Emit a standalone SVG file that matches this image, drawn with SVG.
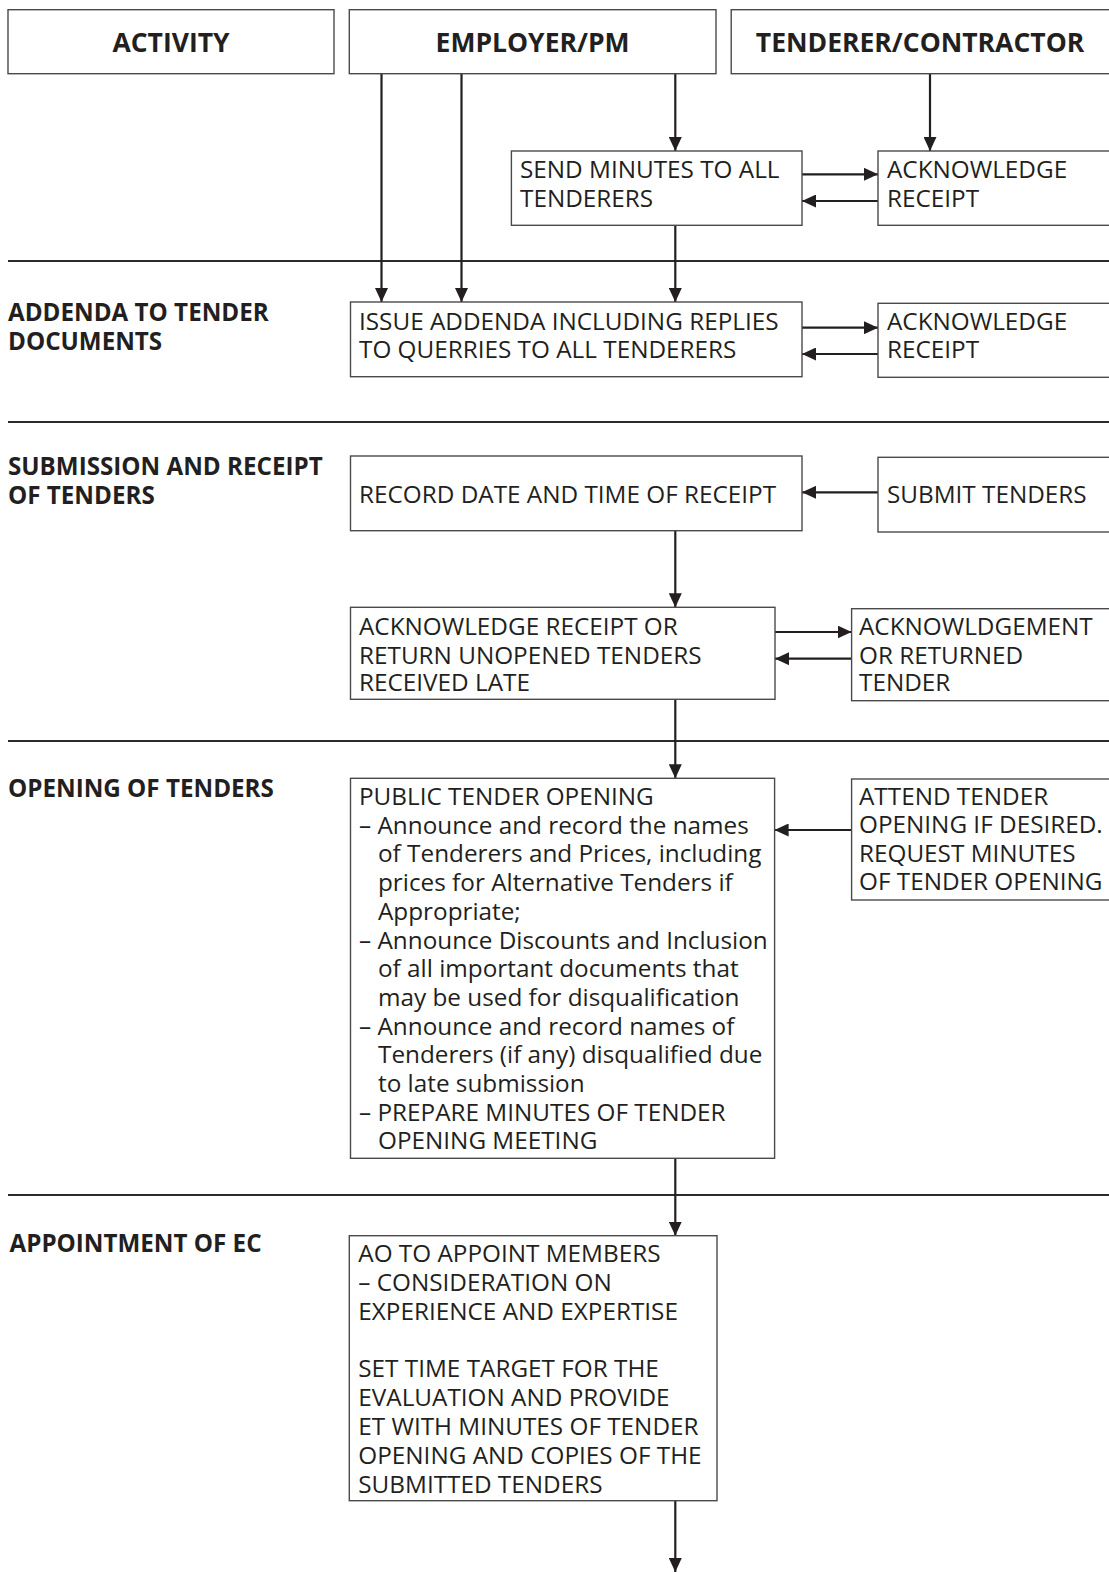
<svg xmlns="http://www.w3.org/2000/svg" width="1109" height="1572" viewBox="0 0 1109 1572">
<style>
  .box { fill: #ffffff; stroke: #4a4a4a; stroke-width: 1.4; }
  .hdr { font-family: "Open Sans", "Liberation Sans", sans-serif; font-weight: bold; font-size: 26.5px; fill: #231f20; }
  .lbl { font-family: "Open Sans", "Liberation Sans", sans-serif; font-weight: bold; font-size: 24.2px; fill: #231f20; }
  .t { font-family: "Open Sans", "Liberation Sans", sans-serif; font-size: 24.3px; fill: #231f20; }
  .sep { stroke: #2b2b2b; stroke-width: 2.2; fill: none; }
  .con { stroke: #231f20; stroke-width: 2.2; fill: none; marker-end: url(#ah); }
</style>
<defs>
  <marker id="ah" markerUnits="userSpaceOnUse" markerWidth="14" markerHeight="13" refX="14" refY="6.5" orient="auto">
    <path d="M0,0 L14,6.5 L0,13 z" fill="#231f20"/>
  </marker>
</defs>
<rect width="1109" height="1572" fill="#ffffff"/>

<g id="separators">
  <line class="sep" x1="8" y1="261" x2="1109" y2="261"/>
  <line class="sep" x1="8" y1="422" x2="1109" y2="422"/>
  <line class="sep" x1="8" y1="741" x2="1109" y2="741"/>
  <line class="sep" x1="8" y1="1195" x2="1109" y2="1195"/>
</g>

<g id="labels">
  <text class="lbl" x="8" y="321">ADDENDA TO TENDER</text>
  <text class="lbl" x="8" y="350">DOCUMENTS</text>
  <text class="lbl" x="8" y="475">SUBMISSION AND RECEIPT</text>
  <text class="lbl" x="8" y="503.5">OF TENDERS</text>
  <text class="lbl" x="8" y="797">OPENING OF TENDERS</text>
  <text class="lbl" x="9.5" y="1252">APPOINTMENT OF EC</text>
</g>

<g id="connectors">
  <line class="con" x1="381.5" y1="74" x2="381.5" y2="302"/>
  <line class="con" x1="461.5" y1="74" x2="461.5" y2="302"/>
  <line class="con" x1="675.3" y1="74" x2="675.3" y2="151"/>
  <line class="con" x1="930" y1="74" x2="930" y2="151"/>
  <line class="con" x1="675.3" y1="225.5" x2="675.3" y2="302"/>
  <line class="con" x1="802" y1="174.3" x2="878" y2="174.3"/>
  <line class="con" x1="878" y1="201" x2="802" y2="201"/>
  <line class="con" x1="802" y1="327.7" x2="878" y2="327.7"/>
  <line class="con" x1="878" y1="354" x2="802" y2="354"/>
  <line class="con" x1="878" y1="492.3" x2="802" y2="492.3"/>
  <line class="con" x1="675.3" y1="530.7" x2="675.3" y2="607.3"/>
  <line class="con" x1="775" y1="632" x2="851.6" y2="632"/>
  <line class="con" x1="851.6" y1="658.7" x2="775" y2="658.7"/>
  <line class="con" x1="675.3" y1="699.3" x2="675.3" y2="778.3"/>
  <line class="con" x1="851.6" y1="830" x2="774.6" y2="830"/>
  <line class="con" x1="675.3" y1="1158.3" x2="675.3" y2="1235.7"/>
  <line class="con" x1="675.3" y1="1500.7" x2="675.3" y2="1572"/>
</g>

<g id="hdr-activity">
  <rect class="box" x="8" y="9.7" width="326" height="64"/>
  <text class="hdr" x="171" y="51.5" text-anchor="middle">ACTIVITY</text>
</g>
<g id="hdr-employer">
  <rect class="box" x="349.3" y="9.7" width="366.7" height="64"/>
  <text class="hdr" x="532.6" y="51.5" text-anchor="middle">EMPLOYER/PM</text>
</g>
<g id="hdr-tenderer">
  <rect class="box" x="731.2" y="9.7" width="390" height="64"/>
  <text class="hdr" x="920" y="51.5" text-anchor="middle">TENDERER/CONTRACTOR</text>
</g>

<g id="send-minutes">
  <rect class="box" x="511.4" y="151" width="290.6" height="74.3"/>
  <text class="t" x="520" y="178.3">SEND MINUTES TO ALL</text>
  <text class="t" x="520" y="206.7">TENDERERS</text>
</g>
<g id="ack-1">
  <rect class="box" x="878" y="151" width="240" height="74.3"/>
  <text class="t" x="887" y="178.3">ACKNOWLEDGE</text>
  <text class="t" x="887" y="206.7">RECEIPT</text>
</g>

<g id="issue-addenda">
  <rect class="box" x="350.5" y="302" width="451.5" height="74.7"/>
  <text class="t" x="359" y="330">ISSUE ADDENDA INCLUDING REPLIES</text>
  <text class="t" x="359" y="358.3">TO QUERRIES TO ALL TENDERERS</text>
</g>
<g id="ack-2">
  <rect class="box" x="878" y="303.3" width="240" height="74"/>
  <text class="t" x="887" y="329.5">ACKNOWLEDGE</text>
  <text class="t" x="887" y="358.3">RECEIPT</text>
</g>

<g id="record-date">
  <rect class="box" x="350.5" y="456" width="451.5" height="74.7"/>
  <text class="t" x="359" y="503.3">RECORD DATE AND TIME OF RECEIPT</text>
</g>
<g id="submit-tenders">
  <rect class="box" x="878" y="457.3" width="240" height="74.7"/>
  <text class="t" x="887" y="503.3">SUBMIT TENDERS</text>
</g>

<g id="ack-receipt-return">
  <rect class="box" x="350.5" y="607.3" width="424.5" height="92"/>
  <text class="t" x="359" y="634.7">ACKNOWLEDGE RECEIPT OR</text>
  <text class="t" x="359" y="663.7">RETURN UNOPENED TENDERS</text>
  <text class="t" x="359" y="691">RECEIVED LATE</text>
</g>
<g id="acknowledgement">
  <rect class="box" x="851.6" y="608.7" width="270" height="92"/>
  <text class="t" x="859" y="634.7">ACKNOWLDGEMENT</text>
  <text class="t" x="859" y="663.7">OR RETURNED</text>
  <text class="t" x="859" y="691">TENDER</text>
</g>

<g id="public-opening">
  <rect class="box" x="350.5" y="778.3" width="424.1" height="380"/>
  <text class="t" x="359" y="805">PUBLIC TENDER OPENING</text>
  <text class="t" x="359" y="833.7">– Announce and record the names</text>
  <text class="t" x="378" y="862.4">of Tenderers and Prices, including</text>
  <text class="t" x="378" y="891.1">prices for Alternative Tenders if</text>
  <text class="t" x="378" y="919.8">Appropriate;</text>
  <text class="t" x="359" y="948.5">– Announce Discounts and Inclusion</text>
  <text class="t" x="378" y="977.2">of all important documents that</text>
  <text class="t" x="378" y="1005.9">may be used for disqualification</text>
  <text class="t" x="359" y="1034.6">– Announce and record names of</text>
  <text class="t" x="378" y="1063.3">Tenderers (if any) disqualified due</text>
  <text class="t" x="378" y="1092">to late submission</text>
  <text class="t" x="359" y="1120.7">– PREPARE MINUTES OF TENDER</text>
  <text class="t" x="378" y="1149.4">OPENING MEETING</text>
</g>
<g id="attend-opening">
  <rect class="box" x="851.6" y="779" width="270" height="121"/>
  <text class="t" x="859" y="805">ATTEND TENDER</text>
  <text class="t" x="859" y="833.3">OPENING IF DESIRED.</text>
  <text class="t" x="859" y="861.7">REQUEST MINUTES</text>
  <text class="t" x="859" y="890">OF TENDER OPENING</text>
</g>

<g id="appoint-members">
  <rect class="box" x="349.3" y="1235.7" width="367.7" height="265"/>
  <text class="t" x="358.3" y="1261.7">AO TO APPOINT MEMBERS</text>
  <text class="t" x="358.3" y="1291">– CONSIDERATION ON</text>
  <text class="t" x="358.3" y="1320">EXPERIENCE AND EXPERTISE</text>
  <text class="t" x="358.3" y="1376.7">SET TIME TARGET FOR THE</text>
  <text class="t" x="358.3" y="1406">EVALUATION AND PROVIDE</text>
  <text class="t" x="358.3" y="1435">ET WITH MINUTES OF TENDER</text>
  <text class="t" x="358.3" y="1464">OPENING AND COPIES OF THE</text>
  <text class="t" x="358.3" y="1492.7">SUBMITTED TENDERS</text>
</g>
</svg>
